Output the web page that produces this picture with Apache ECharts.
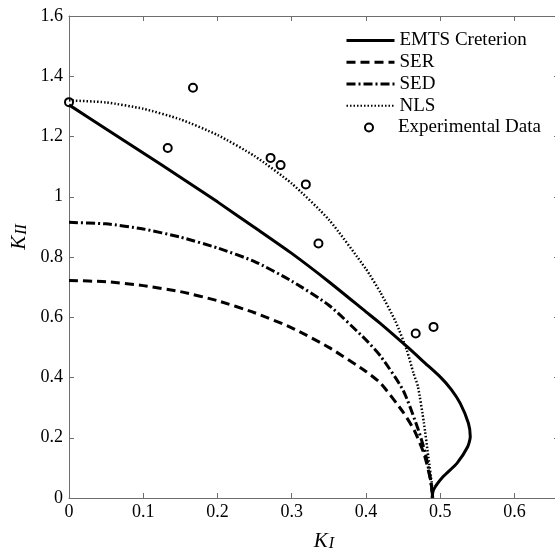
<!DOCTYPE html>
<html>
<head>
<meta charset="utf-8">
<script src="https://cdn.jsdelivr.net/npm/echarts@6/dist/echarts.min.js"></script>
<style>html,body{margin:0;padding:0;background:#fff}#c{width:555px;height:554px}</style>
</head>
<body>
<div id="c"></div>
<script>
// EMTS Creterion (solid)
const emtsKI  = [0, 0.05, 0.1, 0.15, 0.2, 0.25, 0.3, 0.35, 0.4, 0.42, 0.455, 0.48, 0.5, 0.515, 0.527, 0.538, 0.5405, 0.537, 0.5225, 0.504, 0.491, 0.489];
const emtsKII = [1.305, 1.225, 1.145, 1.065, 0.983, 0.898, 0.812, 0.718, 0.618, 0.578, 0.503, 0.447, 0.402, 0.36, 0.314, 0.248, 0.203, 0.170, 0.115, 0.071, 0.027, 0.0];
// SER (dashed)
const serKI  = [0, 0.05, 0.1, 0.15, 0.2, 0.25, 0.3, 0.35, 0.4, 0.42, 0.45, 0.465, 0.478, 0.487, 0.49];
const serKII = [0.722, 0.718, 0.705, 0.685, 0.655, 0.615, 0.565, 0.5, 0.42, 0.38, 0.285, 0.225, 0.148, 0.06, 0.0];
// SED (dash-dot)
const sedKI  = [0, 0.05, 0.1, 0.15, 0.2, 0.25, 0.3, 0.35, 0.4, 0.42, 0.45, 0.47, 0.48, 0.487, 0.49];
const sedKII = [0.915, 0.91, 0.893, 0.866, 0.83, 0.785, 0.72, 0.64, 0.525, 0.47, 0.358, 0.23, 0.148, 0.06, 0.0];
// NLS (dotted)
const nlsKI  = [0, 0.05, 0.1, 0.15, 0.2, 0.25, 0.3, 0.35, 0.4, 0.42, 0.44, 0.455, 0.464, 0.47, 0.478, 0.484, 0.489, 0.49];
const nlsKII = [1.32, 1.313, 1.292, 1.257, 1.205, 1.135, 1.044, 0.924, 0.76, 0.68, 0.585, 0.491, 0.414, 0.37, 0.25, 0.137, 0.04, 0.0];
// Experimental Data
const expKI  = [0, 0.133, 0.167, 0.2715, 0.285, 0.319, 0.336, 0.467, 0.491];
const expKII = [1.314, 1.162, 1.362, 1.129, 1.105, 1.041, 0.845, 0.546, 0.568];

const xTicks = [0, 0.1, 0.2, 0.3, 0.4, 0.5, 0.6];
const yTicks = [0, 0.2, 0.4, 0.6, 0.8, 1, 1.2, 1.4, 1.6];
const lineNames = ['EMTS Creterion', 'SER', 'SED', 'NLS'];
const pointName = 'Experimental Data';

const pair = (xs, ys) => xs.map((x, i) => [x, ys[i]]);
const FONT = '"Liberation Serif", "Times New Roman", serif';
const AX = '#6e6e6e';

const chart = echarts.init(document.getElementById('c'), null, {renderer: 'canvas'});

const baseAxis = {
  type: 'value',
  axisLine: {show: true, onZero: false, lineStyle: {color: AX, width: 1}},
  axisTick: {show: true, inside: true, length: 5, lineStyle: {color: AX}},
  splitLine: {show: false}
};
const subRich = {
  k: {fontFamily: FONT, fontStyle: 'italic', fontSize: 21, color: '#000', lineHeight: 21, verticalAlign: 'top'},
  s: {fontFamily: FONT, fontStyle: 'italic', fontSize: 16, color: '#000', lineHeight: 16, padding: [10, 0, 0, 1], verticalAlign: 'bottom'}
};
const legendLineWidths = [3, 3, 3, 2];

const option = {
  backgroundColor: '#fff',
  animation: false,
  textStyle: {fontFamily: FONT},
  grid: {left: 69, right: -4, top: 16, bottom: 56, containLabel: false, outerBoundsMode: 'none'},
  xAxis: [
    Object.assign({}, baseAxis, {
      position: 'bottom', min: xTicks[0], max: 0.66, interval: 0.1,
      axisLabel: {color: '#000', fontFamily: FONT, fontSize: 18, margin: 5, showMaxLabel: false,
        formatter: v => xTicks.some(t => Math.abs(t - v) < 1e-9) ? String(+v.toFixed(1)) : ''},
      name: '{k|K}{s|I}', nameLocation: 'middle', nameGap: 26,
      nameTextStyle: {padding: [0, 0, 0, 20], rich: subRich}
    }),
    Object.assign({}, baseAxis, {
      position: 'top', min: xTicks[0], max: 0.66, interval: 0.1, axisLabel: {show: false}
    })
  ],
  yAxis: [
    Object.assign({}, baseAxis, {
      position: 'left', min: yTicks[0], max: yTicks[yTicks.length - 1], interval: 0.2,
      axisLabel: {color: '#000', fontFamily: FONT, fontSize: 18, margin: 6,
        formatter: v => String(+v.toFixed(1))},
      name: '{k|K}{s|II}', nameLocation: 'middle', nameGap: 32, nameRotate: 90,
      nameTextStyle: {padding: [0, 0, 0, 40], rich: subRich}
    }),
    Object.assign({}, baseAxis, {
      position: 'right', min: yTicks[0], max: yTicks[yTicks.length - 1], interval: 0.2, axisLabel: {show: false}
    })
  ],
  legend: [
    {
      orient: 'vertical', left: 345, top: 31, padding: 0, itemWidth: 48, itemHeight: 14, itemGap: 2.75,
      textStyle: {fontFamily: FONT, fontSize: 19, color: '#000'},
      data: lineNames.map((n, i) => ({name: n, itemStyle: {opacity: 0}, lineStyle: {width: legendLineWidths[i]}}))
    },
    {
      orient: 'vertical', left: 364, top: 118, padding: 0, itemWidth: 48, itemHeight: 8, itemGap: 4,
      textStyle: {fontFamily: FONT, fontSize: 19, color: '#000'},
      itemStyle: {borderWidth: 2, borderColor: '#000', color: '#fff'},
      data: [pointName]
    }
  ],
  series: [
    {name: lineNames[0], type: 'line', symbol: 'none', data: pair(emtsKI, emtsKII), smooth: 0.2,
      lineStyle: {color: '#000', width: 3, type: 'solid'}, itemStyle: {color: '#000'}},
    {name: lineNames[1], type: 'line', symbol: 'none', data: pair(serKI, serKII), smooth: 0.2,
      lineStyle: {color: '#000', width: 3, type: [9, 5]}, itemStyle: {color: '#000'}},
    {name: lineNames[2], type: 'line', symbol: 'none', data: pair(sedKI, sedKII), smooth: 0.2,
      lineStyle: {color: '#000', width: 3, type: [9, 3, 2, 3]}, itemStyle: {color: '#000'}},
    {name: lineNames[3], type: 'line', symbol: 'none', data: pair(nlsKI, nlsKII), smooth: 0.2,
      lineStyle: {color: '#000', width: 2.5, type: [1.5, 2]}, itemStyle: {color: '#000'}},
    {name: pointName, type: 'scatter', symbol: 'circle', symbolSize: 8,
      data: pair(expKI, expKII),
      itemStyle: {color: '#fff', borderColor: '#000', borderWidth: 2, opacity: 1}}
  ]
};
chart.setOption(option);
</script>
</body>
</html>
